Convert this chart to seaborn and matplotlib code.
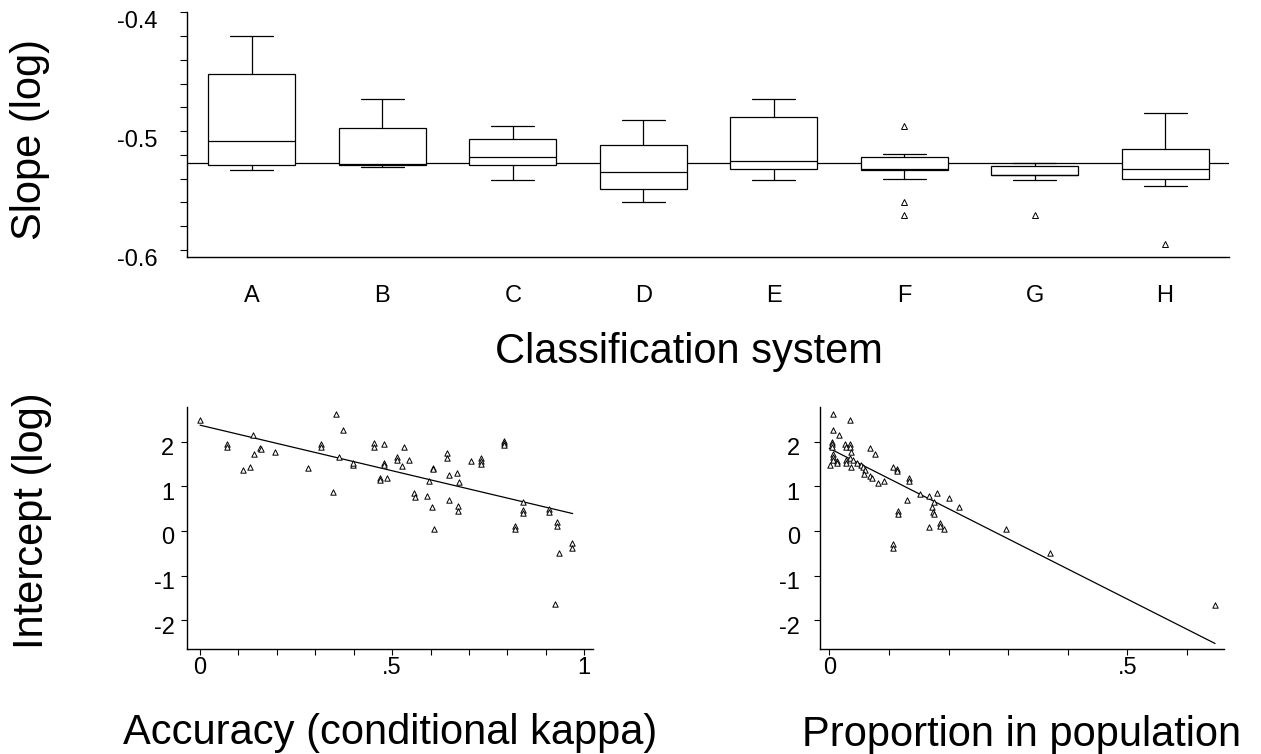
import numpy as np
import pandas as pd
import matplotlib
matplotlib.use("Agg")
import matplotlib.pyplot as plt
from matplotlib.ticker import MultipleLocator
from matplotlib.transforms import ScaledTranslation
import seaborn as sns

# ---------------- data ----------------
groups = ["A", "B", "C", "D", "E", "F", "G", "H"]
whislo = [-0.5325, -0.5305, -0.5409, -0.5600, -0.5412, -0.5404, -0.5409, -0.5460]
q1 = [-0.5283, -0.5283, -0.5283, -0.5488, -0.5317, -0.5328, -0.5370, -0.5404]
med = [-0.5084, -0.5278, -0.5216, -0.5342, -0.5249, -0.5322, -0.5365, -0.5317]
q3 = [-0.4517, -0.4977, -0.5067, -0.5115, -0.4879, -0.5216, -0.5292, -0.5148]
whishi = [-0.4201, -0.4733, -0.4958, -0.4904, -0.4731, -0.5196, -0.5266, -0.4843]
outliers = [[], [], [], [], [], [-0.4955, -0.5597, -0.5707], [-0.5709], [-0.5948]]
slope_ref = -0.5266

x_acc = [0.0, 0.069, 0.069, 0.113, 0.130, 0.139, 0.141, 0.156, 0.158, 0.194,
         0.280, 0.315, 0.315, 0.347, 0.354, 0.371, 0.363, 0.398, 0.398, 0.453,
         0.453, 0.469, 0.469, 0.480, 0.479, 0.479, 0.486, 0.512, 0.512, 0.525,
         0.530, 0.543, 0.556, 0.559, 0.592, 0.597, 0.604, 0.606, 0.606, 0.608,
         0.642, 0.642, 0.648, 0.649, 0.670, 0.673, 0.671, 0.671, 0.706, 0.731,
         0.731, 0.731, 0.790, 0.790, 0.790, 0.819, 0.819, 0.842, 0.842, 0.842,
         0.909, 0.909, 0.929, 0.929, 0.924, 0.935, 0.969, 0.969]
y_acc = [2.48, 1.95, 1.89, 1.36, 1.43, 2.16, 1.72, 1.85, 1.83, 1.77,
         1.41, 1.95, 1.89, 0.87, 2.62, 2.27, 1.65, 1.48, 1.52, 1.98,
         1.89, 1.18, 1.15, 1.95, 1.52, 1.48, 1.19, 1.66, 1.58, 1.45,
         1.88, 1.60, 0.84, 0.76, 0.79, 1.13, 0.54, 1.41, 1.39, 0.04,
         1.74, 1.63, 0.70, 1.26, 1.30, 1.10, 0.57, 0.44, 1.57, 1.63,
         1.56, 1.50, 2.02, 1.97, 1.92, 0.12, 0.04, 0.64, 0.48, 0.40,
         0.49, 0.42, 0.20, 0.12, -1.63, -0.49, -0.27, -0.38]
fit_acc_x = [0.0, 0.97]
fit_acc_y = [2.37, 0.39]

x_prop = [0.007, 0.007, 0.017, 0.034, 0.001, 0.004, 0.005, 0.004, 0.007, 0.007,
          0.007, 0.013, 0.013, 0.026, 0.028, 0.034, 0.034, 0.028, 0.028, 0.035,
          0.037, 0.040, 0.036, 0.046, 0.054, 0.057, 0.060, 0.058, 0.069, 0.077,
          0.069, 0.072, 0.081, 0.092, 0.106, 0.113, 0.113, 0.106, 0.106, 0.116,
          0.116, 0.130, 0.133, 0.133, 0.152, 0.168, 0.168, 0.172, 0.174, 0.176,
          0.176, 0.181, 0.185, 0.185, 0.192, 0.201, 0.218, 0.296, 0.370, 0.647]
y_prop = [2.62, 2.26, 2.15, 2.48, 1.47, 1.99, 1.95, 1.89, 1.73, 1.65,
          1.59, 1.56, 1.53, 1.95, 1.89, 1.95, 1.88, 1.59, 1.52, 1.64,
          1.77, 1.59, 1.43, 1.52, 1.47, 1.43, 1.37, 1.28, 1.86, 1.73,
          1.24, 1.18, 1.08, 1.13, 1.43, 1.39, 1.34, -0.29, -0.38, 0.45,
          0.39, 0.69, 1.19, 1.13, 0.83, 0.78, 0.10, 0.54, 0.43, 0.64,
          0.39, 0.86, 0.18, 0.11, 0.04, 0.74, 0.53, 0.04, -0.50, -1.65]
fit_prop_x = [0.0, 0.647]
fit_prop_y = [1.85, -2.52]

slope_ticks = [-0.6, -0.5, -0.4]
slope_ticklabels = ["-0.6", "-0.5", "-0.4"]
int_ticks = [-2, -1, 0, 1, 2]
acc_ticks = [0.0, 0.1, 0.2, 0.3, 0.4, 0.5, 0.6, 0.7, 0.8, 0.9, 1.0]
acc_ticklabels = ["0", "", "", "", "", ".5", "", "", "", "", "1"]
prop_ticks = [0.0, 0.1, 0.2, 0.3, 0.4, 0.5, 0.6]
prop_ticklabels = ["0", "", "", "", "", ".5", ""]

# ---------------- style ----------------
sns.set_style("ticks")
plt.rcParams["font.family"] = ["Liberation Sans", "DejaVu Sans"]
for key in ["text.color", "axes.labelcolor", "xtick.color", "ytick.color",
            "axes.edgecolor"]:
    plt.rcParams[key] = "black"
plt.rcParams["axes.linewidth"] = 1.0

W, H = 1261, 754
fig = plt.figure(figsize=(W / 100, H / 100), dpi=100)


def rect(l, t, r, b):
    return [l / W, 1 - b / H, (r - l) / W, (b - t) / H]


ax1 = fig.add_axes(rect(187, 12.3, 1229, 256.7))
ax2 = fig.add_axes(rect(187, 407.3, 593, 649.3))
ax3 = fig.add_axes(rect(820, 407.3, 1224, 649.3))

lw = 0.9
# ---- top: boxplots ----
stats = []
for i, g in enumerate(groups):
    stats.append(dict(label=g, whislo=whislo[i], q1=q1[i], med=med[i],
                      q3=q3[i], whishi=whishi[i], fliers=outliers[i]))
ax1.axhline(slope_ref, color="black", lw=lw, zorder=1)
ax1.bxp(stats, positions=list(range(len(groups))), widths=0.667, capwidths=0.33,
        showfliers=True, patch_artist=True, manage_ticks=False,
        boxprops=dict(facecolor="white", edgecolor="black", lw=lw),
        whiskerprops=dict(color="black", lw=lw),
        capprops=dict(color="black", lw=lw),
        medianprops=dict(color="black", lw=lw),
        flierprops=dict(marker="^", markersize=4, markerfacecolor="white",
                        markeredgecolor="black", markeredgewidth=0.7,
                        linestyle="none"))
ax1.set_xlim(-0.498, 7.49)
ax1.set_ylim(-0.6056, -0.4)
ax1.set_yticks(slope_ticks)
ax1.set_yticklabels(slope_ticklabels)
ax1.yaxis.set_minor_locator(MultipleLocator(0.02))
ax1.set_xticks(list(range(len(groups))))
ax1.set_xticklabels(groups)
ax1.tick_params(axis="x", length=0, pad=20.5, labelsize=17)
ax1.tick_params(axis="y", which="both", length=5, width=0.8, direction="out",
                pad=16, labelsize=17)
for s in ["top", "right"]:
    ax1.spines[s].set_visible(False)


# ---- bottom panels: scatter + fit line ----
def scatter_panel(ax, xs, ys, fx, fy, ticks, ticklabels, xlim, ypad):
    sns.scatterplot(x=xs, y=ys, ax=ax, marker="^", s=15, color="white",
                    edgecolor="black", linewidth=0.7, zorder=3)
    sns.lineplot(x=fx, y=fy, ax=ax, color="black", linewidth=lw, zorder=2)
    ax.set_xlim(*xlim)
    ax.set_ylim(-2.65, 2.77)
    ax.set_xticks(ticks)
    ax.set_xticklabels(ticklabels)
    ax.set_yticks(int_ticks)
    ax.set_yticklabels([str(t) for t in int_ticks])
    ax.tick_params(axis="x", length=4.5, width=0.8, pad=1, labelsize=17)
    ax.tick_params(axis="y", length=4.5, width=0.8, pad=ypad, labelsize=17)
    for s in ["top", "right"]:
        ax.spines[s].set_visible(False)


scatter_panel(ax2, x_acc, y_acc, fit_acc_x, fit_acc_y, acc_ticks, acc_ticklabels,
              (-0.034, 1.023), 4.5)
scatter_panel(ax3, x_prop, y_prop, fit_prop_x, fit_prop_y, prop_ticks,
              prop_ticklabels, (-0.0156, 0.662), 10)

# shift y tick labels slightly downward as in the reference
for ax, dy in [(ax1, 7), (ax2, 5), (ax3, 5)]:
    for lab in ax.get_yticklabels():
        lab.set_transform(lab.get_transform() +
                          ScaledTranslation(0, -dy / 100, fig.dpi_scale_trans))

# ---- big labels ----
big = 30
fig.text(30 / W, 1 - 140 / H, "Slope (log)", rotation=90, ha="center",
         va="center", fontsize=big)
fig.text(32 / W, 1 - 521 / H, "Intercept (log)", rotation=90, ha="center",
         va="center", fontsize=big)
fig.text(689 / W, 1 - 363 / H, "Classification system", ha="center",
         va="baseline", fontsize=big)
fig.text(390 / W, 1 - 744 / H, "Accuracy (conditional kappa)", ha="center",
         va="baseline", fontsize=big)
fig.text(1022 / W, 1 - 746 / H, "Proportion in population", ha="center",
         va="baseline", fontsize=big)

fig.savefig("out.png", dpi=100)
